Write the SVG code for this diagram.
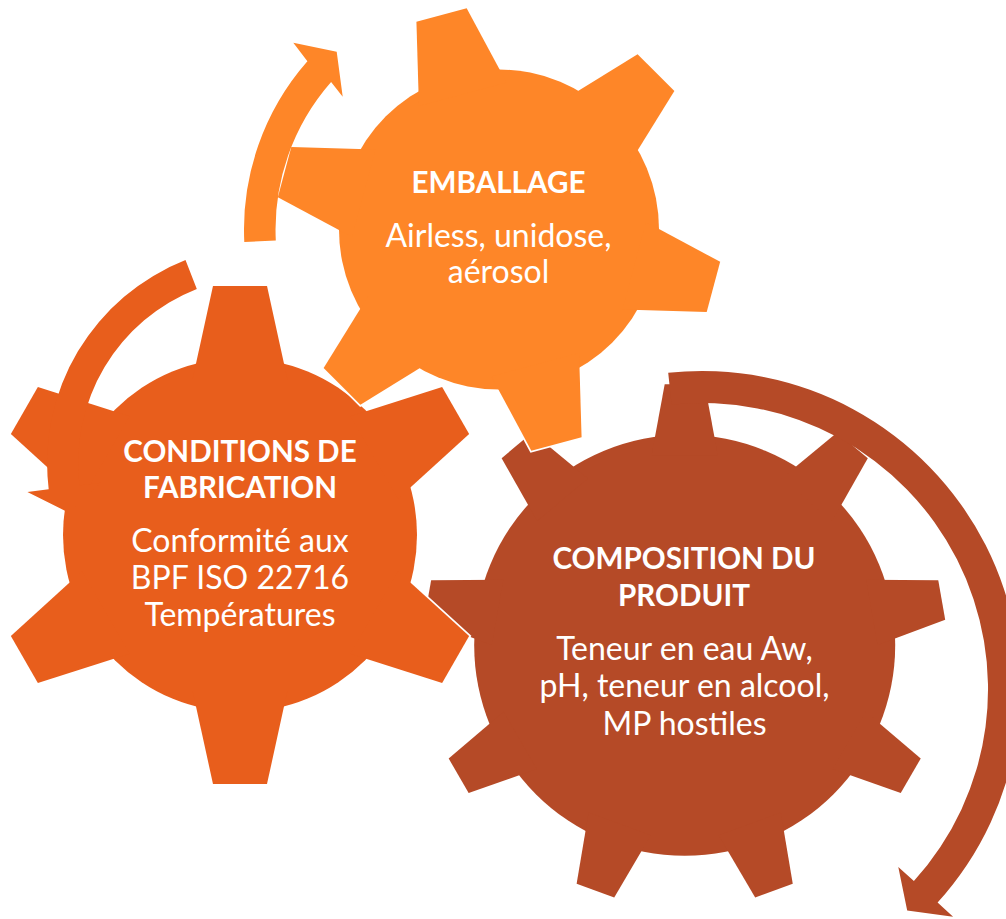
<svg xmlns="http://www.w3.org/2000/svg" xmlns:xlink="http://www.w3.org/1999/xlink" width="1006" height="919" viewBox="0 0 1006 919">
  <style>
    .lbl { font-family: Lato, "Liberation Sans", sans-serif; font-size: 32px; fill: #ffffff; text-anchor: middle; }
    .ttl { font-weight: bold; font-size: 29.6px; }
    .halo { fill: #ffffff; stroke: #ffffff; stroke-width: 3.5; }
    .c-emb { fill: #FE8628; }
    .c-fab { fill: #E85E1C; }
    .c-cmp { fill: #B54A27; }
  </style>
  <defs>
    <!-- tooth outlines, pointing up from the gear centre -->
    <polygon id="tooth-emb" points="-45.4,-140 -26,-222 26,-222 45.4,-140"/>
    <polygon id="tooth-fab" points="-47.6,-155 -27,-249 27,-249 47.6,-155"/>
    <polygon id="tooth-cmp" points="-33.1,-190 -20,-261 20,-261 33.1,-190"/>
  </defs>

  <!-- large 9-tooth gear -->
  <g id="gear-composition">
    <g class="c-cmp" transform="translate(684.7,645.3)">
      <circle r="210.5"/>
      <use href="#tooth-cmp"/>
      <use href="#tooth-cmp" transform="rotate(40)"/>
      <use href="#tooth-cmp" transform="rotate(80)"/>
      <use href="#tooth-cmp" transform="rotate(120)"/>
      <use href="#tooth-cmp" transform="rotate(160)"/>
      <use href="#tooth-cmp" transform="rotate(200)"/>
      <use href="#tooth-cmp" transform="rotate(240)"/>
      <use href="#tooth-cmp" transform="rotate(280)"/>
      <use href="#tooth-cmp" transform="rotate(320)"/>
    </g>
    <text class="lbl ttl" x="684" y="568.5">COMPOSITION DU</text>
    <text class="lbl ttl" x="684" y="605.5">PRODUIT</text>
    <text class="lbl" x="684.5" y="659.7">Teneur en eau Aw,</text>
    <text class="lbl" x="684.5" y="697.2">pH, teneur en alcool,</text>
    <text class="lbl" x="684.5" y="734.7">MP hostiles</text>
  </g>

  <!-- 6-tooth gear, left -->
  <g id="gear-fabrication">
    <g class="halo" transform="translate(240,535)">
      <circle r="177"/>
      <use href="#tooth-fab"/>
      <use href="#tooth-fab" transform="rotate(60)"/>
      <use href="#tooth-fab" transform="rotate(120)"/>
      <use href="#tooth-fab" transform="rotate(180)"/>
      <use href="#tooth-fab" transform="rotate(240)"/>
      <use href="#tooth-fab" transform="rotate(300)"/>
    </g>
    <g class="c-fab" transform="translate(240,535)">
      <circle r="177"/>
      <use href="#tooth-fab"/>
      <use href="#tooth-fab" transform="rotate(60)"/>
      <use href="#tooth-fab" transform="rotate(120)"/>
      <use href="#tooth-fab" transform="rotate(180)"/>
      <use href="#tooth-fab" transform="rotate(240)"/>
      <use href="#tooth-fab" transform="rotate(300)"/>
    </g>
    <text class="lbl ttl" x="240" y="461.7">CONDITIONS DE</text>
    <text class="lbl ttl" x="240" y="498.4">FABRICATION</text>
    <text class="lbl" x="240" y="552.4">Conformité aux</text>
    <text class="lbl" x="240" y="589.1">BPF ISO 22716</text>
    <text class="lbl" x="240" y="625.8">Températures</text>
  </g>

  <!-- 6-tooth gear, top -->
  <g id="gear-emballage">
    <g class="halo" transform="translate(499,229.5)">
      <circle r="160"/>
      <use href="#tooth-emb" transform="rotate(-15)"/>
      <use href="#tooth-emb" transform="rotate(45)"/>
      <use href="#tooth-emb" transform="rotate(105)"/>
      <use href="#tooth-emb" transform="rotate(165)"/>
      <use href="#tooth-emb" transform="rotate(225)"/>
      <use href="#tooth-emb" transform="rotate(285)"/>
    </g>
    <g class="c-emb" transform="translate(499,229.5)">
      <circle r="160"/>
      <use href="#tooth-emb" transform="rotate(-15)"/>
      <use href="#tooth-emb" transform="rotate(45)"/>
      <use href="#tooth-emb" transform="rotate(105)"/>
      <use href="#tooth-emb" transform="rotate(165)"/>
      <use href="#tooth-emb" transform="rotate(225)"/>
      <use href="#tooth-emb" transform="rotate(285)"/>
    </g>
    <text class="lbl ttl" x="498.5" y="192.7">EMBALLAGE</text>
    <text class="lbl" x="498.5" y="246.7">Airless, unidose,</text>
    <text class="lbl" x="498.5" y="283.3">aérosol</text>
  </g>

  <!-- circular arrows around the gears -->
  <g id="connectors">
    <path class="c-emb" d="M244.3,242 A255,255 0 0 1 307.4,61.2 L293.3,42.7 L336.7,51.7 L342.7,96.7 L331.1,82 A223.5,223.5 0 0 0 275.8,240.4 Z"/>
    <path class="c-fab" d="M185.5,260.1 A218,218 0 0 0 48.7,489.3 L27.4,492 L68.9,512.7 L100.8,482.7 L79.5,485.4 A187,187 0 0 1 196.8,288.9 Z"/>
    <path class="c-cmp" d="M668.2,372.8 A318,318 0 0 1 937.6,902.6 L953.1,916.7 L907.2,910.6 L898.3,867 L913.9,881.1 A286,286 0 0 0 671.6,404.6 Z"/>
  </g>
</svg>
